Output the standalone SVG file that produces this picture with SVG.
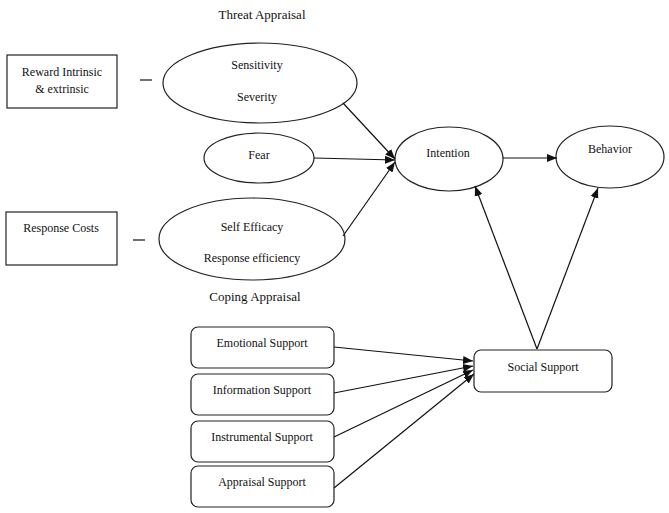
<svg xmlns="http://www.w3.org/2000/svg" width="669" height="513" viewBox="0 0 669 513">
<style>
text{font-family:"Liberation Serif","Times New Roman",serif;font-size:12px;fill:#111;text-anchor:middle}
.s{fill:#fff;stroke:#222;stroke-width:1.2}
.c line{stroke:#111;stroke-width:1.2}
.a{marker-end:url(#ah)}
</style>
<defs>
<marker id="ah" viewBox="0 0 10 10" refX="10" refY="5" markerWidth="10" markerHeight="10" markerUnits="userSpaceOnUse" orient="auto">
<path d="M0,1 L10,5 L0,9 Z" fill="#111"/>
</marker>
</defs>
<rect width="669" height="513" fill="#fff"/>
<text x="262" y="19" style="font-size:13px">Threat Appraisal</text>
<text x="255" y="301" style="font-size:13px">Coping Appraisal</text>
<g id="reward"><rect class="s" x="7" y="55" width="110" height="53"/><text x="62" y="76">Reward Intrinsic</text><text x="62" y="93">&amp; extrinsic</text></g>
<g id="threat"><ellipse class="s" cx="260" cy="83" rx="97" ry="40"/><text x="257" y="69">Sensitivity</text><text x="257" y="101">Severity</text></g>
<g id="fear"><ellipse class="s" cx="259" cy="158" rx="55" ry="25"/><text x="259" y="159">Fear</text></g>
<g id="cost"><rect class="s" x="6" y="212" width="111" height="53"/><text x="61" y="232">Response  Costs</text></g>
<g id="coping"><ellipse class="s" cx="252" cy="239" rx="93" ry="41"/><text x="252" y="231">Self Efficacy</text><text x="252" y="262">Response  efficiency</text></g>
<g id="intention"><ellipse class="s" cx="449" cy="159" rx="54" ry="32"/><text x="448" y="157">Intention</text></g>
<g id="behavior"><ellipse class="s" cx="610" cy="157" rx="54" ry="31"/><text x="610" y="153">Behavior</text></g>
<g id="social"><rect class="s" x="474" y="350" width="138" height="42" rx="7"/><text x="543" y="371">Social Support</text></g>
<g id="emotional"><rect class="s" x="191" y="327" width="143" height="41" rx="7"/><text x="262" y="347">Emotional Support</text></g>
<g id="information"><rect class="s" x="191" y="374" width="143" height="41" rx="7"/><text x="262" y="394">Information Support</text></g>
<g id="instrumental"><rect class="s" x="191" y="421" width="143" height="41" rx="7"/><text x="262" y="441">Instrumental Support</text></g>
<g id="appraisal"><rect class="s" x="191" y="466" width="143" height="41" rx="7"/><text x="262" y="486">Appraisal Support</text></g>
<g class="c">
<line x1="140" y1="80" x2="152" y2="80"/>
<line x1="133" y1="240" x2="145" y2="240"/>
<line class="a" x1="343" y1="103" x2="395" y2="159"/>
<line class="a" x1="314" y1="158" x2="395" y2="160"/>
<line class="a" x1="343" y1="236" x2="395" y2="162"/>
<line class="a" x1="503" y1="158" x2="557" y2="158"/>
<line class="a" x1="537" y1="349" x2="475" y2="186"/>
<line class="a" x1="537" y1="349" x2="598" y2="188"/>
<line class="a" x1="334" y1="347" x2="473" y2="361"/>
<line class="a" x1="334" y1="393" x2="473" y2="366"/>
<line class="a" x1="334" y1="437" x2="473" y2="370"/>
<line class="a" x1="334" y1="488" x2="474" y2="374"/>
</g>
</svg>
